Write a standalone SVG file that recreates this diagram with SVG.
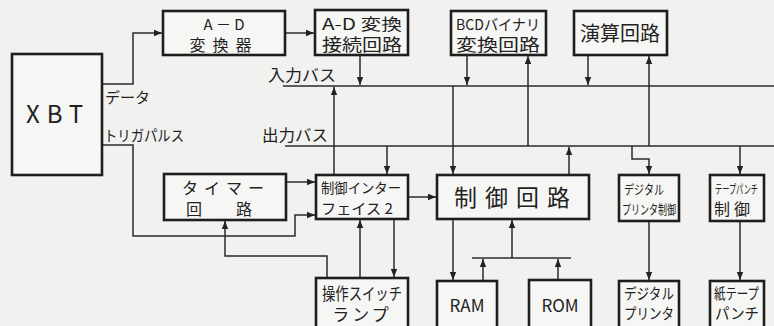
<svg xmlns="http://www.w3.org/2000/svg" width="774" height="326" viewBox="0 0 774 326">
<style>
.bg{fill:#f1f1ef}
.box{fill:#f6f6f4;stroke:#1e1e1e;stroke-width:2.6}
.ln{fill:none;stroke:#2a2a2a;stroke-width:1.5}
.bus{fill:none;stroke:#2a2a2a;stroke-width:1.6}
text{font-family:"Noto Sans CJK JP","Noto Sans",sans-serif;fill:#222}
.c{text-anchor:middle}
</style>
<defs>
<marker id="ah" viewBox="0 0 10 10" refX="10" refY="5" markerWidth="8" markerHeight="8" markerUnits="userSpaceOnUse" orient="auto">
<path d="M0,1 L10,5 L0,9 z" fill="#222"/>
</marker>
</defs>
<rect class="bg" x="0" y="0" width="774" height="326"/>

<g id="connectors">
<path class="bus" d="M283,86 H774"/>
<path class="bus" d="M285,146 H774"/>
<path class="ln" d="M102,84 H133 V33 H162" marker-end="url(#ah)"/>
<path class="ln" d="M285,33 H314" marker-end="url(#ah)"/>
<path class="ln" d="M102,145 H133 V236 H295 V215 H315" marker-end="url(#ah)"/>
<path class="ln" d="M286,182 H315" marker-end="url(#ah)"/>
<path class="ln" d="M327,278 V256 H225 V221" marker-end="url(#ah)"/>
<path class="ln" d="M360,55 V85" marker-end="url(#ah)"/>
<path class="ln" d="M467,55 V85" marker-end="url(#ah)"/>
<path class="ln" d="M528,146 V56" marker-end="url(#ah)"/>
<path class="ln" d="M588,55 V85" marker-end="url(#ah)"/>
<path class="ln" d="M649,146 V56" marker-end="url(#ah)"/>
<path class="ln" d="M334,175 V87" marker-end="url(#ah)"/>
<path class="ln" d="M387,146 V174" marker-end="url(#ah)"/>
<path class="ln" d="M453,86 V174" marker-end="url(#ah)"/>
<path class="ln" d="M569,175 V147" marker-end="url(#ah)"/>
<path class="ln" d="M632,146 V159 H649 V174" marker-end="url(#ah)"/>
<path class="ln" d="M740,146 V174" marker-end="url(#ah)"/>
<path class="ln" d="M408,197 H436" marker-end="url(#ah)"/>
<path class="ln" d="M360,278 V220" marker-end="url(#ah)"/>
<path class="ln" d="M394,219 V277" marker-end="url(#ah)"/>
<path class="ln" d="M453,219 V280" marker-end="url(#ah)"/>
<path class="ln" d="M472,258 H571"/>
<path class="ln" d="M512,258 V220" marker-end="url(#ah)"/>
<path class="ln" d="M483,281 V259" marker-end="url(#ah)"/>
<path class="ln" d="M558,280 V259" marker-end="url(#ah)"/>
<path class="ln" d="M649,221 V280" marker-end="url(#ah)"/>
<path class="ln" d="M740,221 V280" marker-end="url(#ah)"/>
</g>

<g id="labels">
<text x="105" y="103" font-size="15">データ</text>
<text x="104" y="141" font-size="15" textLength="80" lengthAdjust="spacingAndGlyphs">トリガパルス</text>
<text x="268" y="81" font-size="16" textLength="68" lengthAdjust="spacingAndGlyphs">入力バス</text>
<text x="262" y="141" font-size="16" textLength="66" lengthAdjust="spacingAndGlyphs">出力バス</text>
</g>

<g id="xbt">
<rect class="box" x="12" y="54" width="90" height="121"/>
<text class="c" x="58" y="123" font-size="24" letter-spacing="7">XBT</text>
</g>

<g id="ad">
<rect class="box" x="163" y="11" width="122" height="44"/>
<text class="c" x="224" y="30" font-size="15">A － D</text>
<text class="c" x="224" y="51" font-size="16" letter-spacing="7">変換器</text>
</g>

<g id="adconn">
<rect class="box" x="315" y="10" width="93" height="45"/>
<text x="322" y="30" font-size="16" textLength="80" lengthAdjust="spacingAndGlyphs">A-D 変換</text>
<text x="322" y="51" font-size="17" textLength="80" lengthAdjust="spacingAndGlyphs">接続回路</text>
</g>

<g id="bcd">
<rect class="box" x="451" y="11" width="95" height="44"/>
<text x="456" y="30" font-size="15" textLength="84" lengthAdjust="spacingAndGlyphs">BCDバイナリ</text>
<text x="456" y="51" font-size="17" textLength="84" lengthAdjust="spacingAndGlyphs">変換回路</text>
</g>

<g id="arith">
<rect class="box" x="574" y="11" width="93" height="44"/>
<text class="c" x="620" y="41" font-size="20" textLength="80" lengthAdjust="spacingAndGlyphs">演算回路</text>
</g>

<g id="timer">
<rect class="box" x="164" y="174" width="122" height="46"/>
<text class="c" x="226" y="194" font-size="16" letter-spacing="6">タイマー</text>
<text x="186" y="215" font-size="16">回</text>
<text x="236" y="215" font-size="16">路</text>
</g>

<g id="ctrlif">
<rect class="box" x="316" y="175" width="92" height="44"/>
<text x="321" y="193" font-size="14" textLength="80" lengthAdjust="spacingAndGlyphs">制御インター</text>
<text x="321" y="214" font-size="15" textLength="72" lengthAdjust="spacingAndGlyphs">フェイス 2</text>
</g>

<g id="ctrl">
<rect class="box" x="437" y="175" width="152" height="44"/>
<text class="c" x="516" y="206" font-size="23" letter-spacing="8">制御回路</text>
</g>

<g id="dpctrl">
<rect class="box" x="619" y="175" width="60" height="46"/>
<text x="624" y="194" font-size="13" textLength="40" lengthAdjust="spacingAndGlyphs">デジタル</text>
<text x="622" y="214" font-size="13" textLength="54" lengthAdjust="spacingAndGlyphs">プリンタ制御</text>
</g>

<g id="tpctrl">
<rect class="box" x="710" y="175" width="54" height="46"/>
<text transform="translate(715,194) scale(0.6,1)" x="0" y="0" font-size="12">テープパンチ</text>
<text x="714" y="215" font-size="16">制</text>
<text x="734" y="215" font-size="16">御</text>
</g>

<g id="switch">
<rect class="box" x="316" y="278" width="92" height="60"/>
<text x="322" y="300" font-size="17" textLength="80" lengthAdjust="spacingAndGlyphs">操作スイッチ</text>
<text class="c" x="362" y="321" font-size="17" letter-spacing="3">ランプ</text>
</g>

<g id="ram">
<rect class="box" x="437" y="281" width="60" height="57"/>
<text class="c" x="467" y="312" font-size="17">RAM</text>
</g>

<g id="rom">
<rect class="box" x="529" y="280" width="62" height="58"/>
<text class="c" x="560" y="312" font-size="17">ROM</text>
</g>

<g id="printer">
<rect class="box" x="619" y="281" width="60" height="57"/>
<text x="624" y="299" font-size="15" textLength="50" lengthAdjust="spacingAndGlyphs">デジタル</text>
<text x="624" y="319" font-size="15" textLength="50" lengthAdjust="spacingAndGlyphs">プリンタ</text>
</g>

<g id="punch">
<rect class="box" x="710" y="281" width="54" height="57"/>
<text x="714" y="299" font-size="15" textLength="45" lengthAdjust="spacingAndGlyphs">紙テープ</text>
<text x="715" y="319" font-size="15" textLength="44" lengthAdjust="spacingAndGlyphs">パンチ</text>
</g>
</svg>
